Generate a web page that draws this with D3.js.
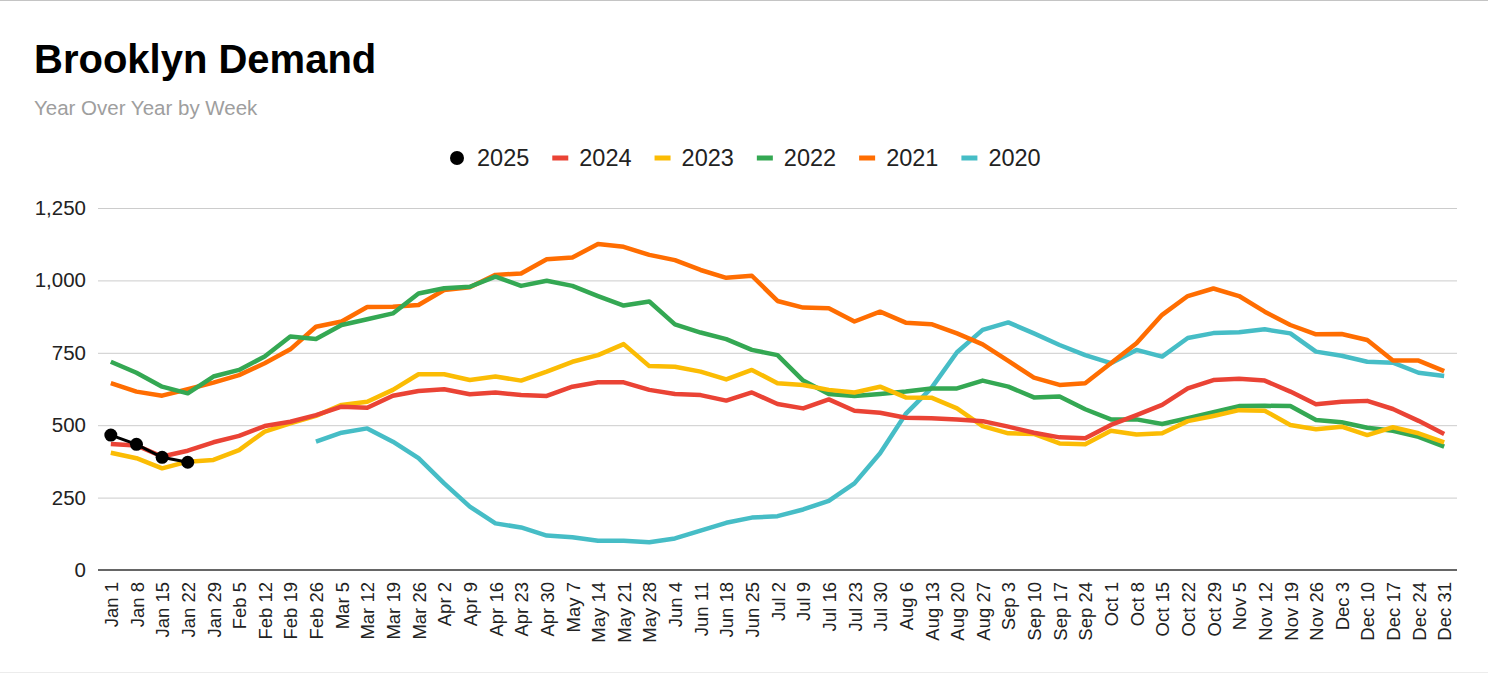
<!DOCTYPE html>
<html>
<head>
<meta charset="utf-8">
<script src="https://cdn.jsdelivr.net/npm/d3@7"></script>
<style>
  body { margin: 0; background: #fff; }
  svg text { font-family: "Liberation Sans", Arial, sans-serif; }
</style>
</head>
<body>
<svg id="chart" width="1488" height="674"></svg>
<script>
// week labels
var weeks = ["Jan 1","Jan 8","Jan 15","Jan 22","Jan 29","Feb 5","Feb 12","Feb 19","Feb 26",
  "Mar 5","Mar 12","Mar 19","Mar 26","Apr 2","Apr 9","Apr 16","Apr 23","Apr 30",
  "May 7","May 14","May 21","May 28","Jun 4","Jun 11","Jun 18","Jun 25",
  "Jul 2","Jul 9","Jul 16","Jul 23","Jul 30","Aug 6","Aug 13","Aug 20","Aug 27",
  "Sep 3","Sep 10","Sep 17","Sep 24","Oct 1","Oct 8","Oct 15","Oct 22","Oct 29",
  "Nov 5","Nov 12","Nov 19","Nov 26","Dec 3","Dec 10","Dec 17","Dec 24","Dec 31"];

var yTicks = [0, 250, 500, 750, 1000, 1250];

var y2025 = [466, 434, 389, 372];
var y2024 = [435,430,392,412,441,463,497,512,535,564,560,602,618,624,607,613,604,601,633,648,648,622,
  608,604,585,613,573,558,589,550,543,526,524,520,514,495,474,458,455,501,535,570,627,656,660,654,616,
  572,581,584,556,515,470];
var y2023 = [405,386,351,374,380,414,478,506,532,570,581,622,676,676,656,668,654,685,719,742,780,704,
  702,685,658,691,645,639,622,613,633,596,595,558,497,472,470,437,434,481,468,472,514,532,552,550,501,
  486,495,466,493,472,441];
var y2022 = [719,681,633,610,668,691,737,806,798,846,866,886,955,973,978,1013,981,999,981,946,913,927,
  848,820,797,760,742,654,608,601,608,616,627,627,654,633,596,599,555,520,520,504,524,545,566,567,566,
  518,510,491,481,460,426];
var y2021 = [645,616,602,624,647,673,714,762,840,858,908,909,915,967,976,1019,1024,1073,1079,1126,1116,1088,
  1070,1036,1009,1016,929,906,904,858,892,854,849,817,779,722,664,639,645,714,783,881,946,972,946,892,846,
  814,815,794,723,723,687];
var y2020 = [null,null,null,null,null,null,null,null,443,474,489,443,386,299,219,161,147,119,113,101,101,96,
  109,136,163,181,186,209,239,299,403,539,628,752,829,855,817,777,742,714,760,737,801,818,821,831,817,
  754,740,719,716,681,670];

var series = [
  { name: "2020", values: y2020, color: "#46bdc6" },
  { name: "2021", values: y2021, color: "#ff6d01" },
  { name: "2022", values: y2022, color: "#34a853" },
  { name: "2023", values: y2023, color: "#fbbc04" },
  { name: "2024", values: y2024, color: "#ea4335" }
];
var legendItems = ["2025", "2024", "2023", "2022", "2021", "2020"];
var legendColors = ["#000", "#ea4335", "#fbbc04", "#34a853", "#ff6d01", "#46bdc6"];

var svg = d3.select("#chart");
var margin = { top: 208, right: 31, bottom: 104, left: 98 };
var width = 1488, height = 674;

// page border lines
svg.append("line").attr("x1", 0).attr("x2", width).attr("y1", 0.5).attr("y2", 0.5)
  .attr("stroke", "#c4c4c4");
svg.append("line").attr("x1", 0).attr("x2", width).attr("y1", 672.5).attr("y2", 672.5)
  .attr("stroke", "#ececec");

svg.append("text").attr("x", 34).attr("y", 73)
  .style("font-size", "40px").style("font-weight", "bold").attr("fill", "#000")
  .text("Brooklyn Demand");
svg.append("text").attr("x", 34).attr("y", 115)
  .style("font-size", "20.5px").attr("fill", "#9e9e9e")
  .text("Year Over Year by Week");

var x = d3.scalePoint()
  .domain(weeks)
  .range([margin.left, width - margin.right])
  .padding(0.5);

var y = d3.scaleLinear()
  .domain([0, 1250])
  .range([height - margin.bottom, margin.top]);

// grid + y labels
var yAxis = svg.append("g")
  .attr("transform", "translate(" + margin.left + ",0)")
  .call(d3.axisLeft(y).tickValues(yTicks).tickFormat(d3.format(","))
    .tickSize(-(width - margin.left - margin.right)).tickPadding(12));
yAxis.select(".domain").remove();
yAxis.selectAll(".tick line").attr("stroke", "#cccccc");
yAxis.selectAll(".tick text").style("font-size", "20.5px").attr("fill", "#222");

// x axis
var xAxis = svg.append("g")
  .attr("transform", "translate(0," + y(0) + ")")
  .call(d3.axisBottom(x).tickSize(0).tickPadding(0));
xAxis.select(".domain").attr("stroke", "#666").attr("stroke-width", 2)
  .attr("d", "M" + margin.left + ",0H" + (width - margin.right));
xAxis.selectAll(".tick text")
  .style("font-size", "18.5px").attr("fill", "#222")
  .attr("text-anchor", "end")
  .attr("transform", "rotate(-90)")
  .attr("x", -12).attr("y", 0).attr("dy", "0.36em");

var line = d3.line()
  .defined(function (d) { return d != null; })
  .x(function (d, i) { return x(weeks[i]); })
  .y(function (d) { return y(d); });

svg.selectAll(".series")
  .data(series)
  .enter().append("path")
  .attr("class", "series")
  .attr("fill", "none")
  .attr("stroke", function (d) { return d.color; })
  .attr("stroke-width", 4.5)
  .attr("stroke-linejoin", "round")
  .attr("d", function (d) { return line(d.values); });

// 2025 line with dots
svg.append("path")
  .attr("fill", "none").attr("stroke", "#000").attr("stroke-width", 3)
  .attr("d", line(y2025));
svg.selectAll(".dot")
  .data(y2025)
  .enter().append("circle")
  .attr("class", "dot")
  .attr("cx", function (d, i) { return x(weeks[i]); })
  .attr("cy", function (d) { return y(d); })
  .attr("r", 6.5)
  .attr("fill", "#000");

// legend
var lx = 450;
legendItems.forEach(function (name, i) {
  var g = svg.append("g").attr("transform", "translate(" + lx + ",158)");
  if (i == 0) {
    g.append("circle").attr("cx", 7).attr("cy", 0).attr("r", 7).attr("fill", legendColors[i]);
  } else {
    g.append("rect").attr("x", 0).attr("y", -2.5).attr("width", 16).attr("height", 5)
      .attr("fill", legendColors[i]);
  }
  var t = g.append("text").attr("x", 27).attr("y", 0).attr("dy", "0.36em")
    .style("font-size", "23.5px").attr("fill", "#222").text(name);
  lx += 27 + t.node().getComputedTextLength() + 23;
});
</script>
</body>
</html>
